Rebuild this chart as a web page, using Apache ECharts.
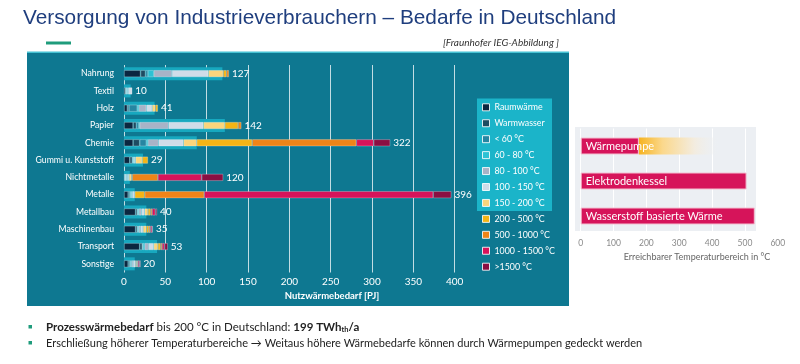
<!DOCTYPE html>
<html><head><meta charset="utf-8">
<script src="https://cdn.jsdelivr.net/npm/echarts@6/dist/echarts.min.js"></script>
<style>html,body{margin:0;padding:0;background:#fff;}#c{width:800px;height:364px;}</style>
</head><body><div id="c"></div>
<script>
const categories = ['Nahrung','Textil','Holz','Papier','Chemie','Gummi u. Kunststoff','Nichtmetalle','Metalle','Metallbau','Maschinenbau','Transport','Sonstige'];
const raumwaerme  = [20, 2,   4, 11, 11, 7,   1,   5,  14, 14, 19, 5];
const warmwasser  = [6,  0.5, 2, 4,  8,  3,   0.5, 2,  2,  2,  3,  2];
const t_lt60      = [3,  0.5, 10,3,  8,  1,   0.5, 1,  1,  1,  1,  1];
const t_60_80     = [7,  1,   2, 1,  2,  1,   1,   1,  1,  1,  2,  1];
const t_80_100    = [22, 1,   9, 35, 13, 0.5, 1,   1,  3,  2,  5,  2];
const t_100_150   = [44, 5,   7, 42, 30, 1.5, 2,   3,  4,  3,  6,  3];
const t_150_200   = [18, 0,   4, 26, 16, 8,   3,   0,  4,  4,  5,  1];
const t_200_500   = [4,  0,   3, 16, 67, 7,   1,   12, 3,  3,  3,  1];
const t_500_1000  = [3,  0,   0, 4,  126,0,   31,  72, 2,  2,  2,  1];
const t_1000_1500 = [0,  0,   0, 0,  21, 0,   53,  277,4,  2,  3,  2];
const t_gt1500    = [0,  0,   0, 0,  20, 0,   26,  22, 2,  1,  4,  1];
const totals      = [127,10,  41,142,322,29,  120, 396,40, 35, 53, 20];
const upTo200     = [119,8,   37,122,88, 23,  7,   13, 27, 27, 40, 13];
const segNames = ['Raumwärme','Warmwasser','< 60 °C','60 - 80 °C','80 - 100 °C','100 - 150 °C','150 - 200 °C','200 - 500 °C','500 - 1000 °C','1000 - 1500 °C','>1500 °C'];
const xTicks = [0,50,100,150,200,250,300,350,400];

const techNames = ['Wärmepumpe','Elektrodenkessel','Wasserstoff basierte Wärme'];
const techRange = [177, 505, 530];
const techExtension = [241, 0, 0];
const tempTicks = [0,100,200,300,400,500,600];

const segData = [raumwaerme,warmwasser,t_lt60,t_60_80,t_80_100,t_100_150,t_150_200,t_200_500,t_500_1000,t_1000_1500,t_gt1500];
const segColors = ['#0b2740','#1d4c62','#2686a2','#2cc2d4','#a8b3c7','#cfdce8','#fbd57c','#f5b415','#ef8418','#d7135a','#8a0f42'];
const F = 'Lato, "Open Sans", sans-serif';

const chart = echarts.init(document.getElementById('c'));
const series = [];
series.push({type:'bar', name:'bis200', xAxisIndex:0, yAxisIndex:1, data:upTo200, barWidth:13,
  itemStyle:{color:'#17a8bf'}, silent:true, z:1});
segNames.forEach((n,i)=>series.push({type:'bar', name:n, stack:'main', xAxisIndex:0, yAxisIndex:0, barWidth:7,
  data:segData[i].map(v=>v===0?null:v),
  itemStyle:{color:segColors[i], borderColor:'rgba(255,255,255,0.45)', borderWidth:0.6}, z:2}));
series.push({type:'bar', name:'total', stack:'main', xAxisIndex:0, yAxisIndex:0, barWidth:7,
  data:totals.map(()=>0), itemStyle:{color:'rgba(0,0,0,0)', borderWidth:0}, z:3,
  label:{show:true, position:'right', distance:3, color:'#fff', fontSize:10, fontFamily:F,
    formatter:p=>totals[p.dataIndex]}});
series.push({type:'bar', name:'techMain', stack:'tech', xAxisIndex:1, yAxisIndex:2, barWidth:17, data:techRange,
  itemStyle:{color:'#d6145a', borderColor:'#f3bfd0', borderWidth:1}, z:4,
  label:{show:true, position:'insideLeft', distance:5, color:'#fff', fontSize:11, fontFamily:F,
    formatter:p=>techNames[p.dataIndex]}});
series.push({type:'bar', name:'techExt', stack:'tech', xAxisIndex:1, yAxisIndex:2, barWidth:17,
  data:techExtension.map(v=>v===0?null:v), z:3,
  itemStyle:{color:new echarts.graphic.LinearGradient(0,0,1,0,[
    {offset:0,color:'#f6b320'},{offset:0.3,color:'#fbd88c'},{offset:0.7,color:'#f3ecdf'},{offset:1,color:'rgba(236,240,244,0.2)'}])}});

chart.setOption({
  animation:false,
  grid:[{left:124, top:65, width:330.7, height:207.5},
        {left:580.7, top:128.5, width:197.1, height:105}],
  xAxis:[{gridIndex:0, type:'value', min:xTicks[0], max:xTicks[xTicks.length-1], interval:50,
          axisLine:{show:false}, axisTick:{show:false},
          axisLabel:{color:'#fff', fontSize:10, fontFamily:F, margin:4},
          splitLine:{show:true, lineStyle:{color:'rgba(255,255,255,0.75)', width:1}}},
         {gridIndex:1, type:'value', min:tempTicks[0], max:tempTicks[tempTicks.length-1], interval:100,
          axisLine:{show:false}, axisTick:{show:false},
          axisLabel:{color:'#8a8a8a', fontSize:8.5, fontFamily:F, margin:5},
          splitLine:{show:true, lineStyle:{color:'#ffffff', width:1}}}],
  yAxis:[{gridIndex:0, type:'category', data:categories, inverse:true,
          axisLine:{show:false}, axisTick:{show:false},
          axisLabel:{color:'#fff', fontSize:8.7, fontFamily:F, margin:10}},
         {gridIndex:0, type:'category', data:categories, inverse:true, show:false},
         {gridIndex:1, type:'category', data:techNames, inverse:true, show:false}],
  legend:{data:segNames, orient:'vertical', left:482, top:101.3, padding:0, itemWidth:7, itemHeight:7, itemGap:3.94,
    icon:'rect', selectedMode:false,
    itemStyle:{borderColor:'rgba(255,255,255,0.85)', borderWidth:1},
    textStyle:{color:'#fff', fontSize:8.8, fontFamily:F, lineHeight:12}},
  graphic:[
    {type:'rect', z:-10, shape:{x:27,y:52,width:542,height:254}, style:{fill:'#0e7891'}},
    {type:'rect', z:-9, shape:{x:27,y:51.5,width:542,height:1.5}, style:{fill:'#45c2d3'}},
    {type:'rect', z:-9, shape:{x:477,y:98.5,width:75,height:112.5}, style:{fill:'#1bb4c9'}},
    {type:'rect', z:-10, shape:{x:575,y:127,width:181,height:104}, style:{fill:'#eceff3'}},
    {type:'text', z:5, x:23, y:18, style:{text:'Versorgung von Industrieverbrauchern – Bedarfe in Deutschland',
      fontSize:20.8, fontFamily:'"Liberation Sans", Arial, sans-serif', fill:'#1f3e7e', verticalAlign:'middle'}},
    {type:'rect', z:5, shape:{x:46,y:41.5,width:25,height:3}, style:{fill:'#1f9c7c'}},
    {type:'text', z:5, x:559, y:43, style:{text:'[Fraunhofer IEG-Abbildung ]', fontSize:10, fontStyle:'italic',
      fontFamily:F, fill:'#333', align:'right', verticalAlign:'middle'}},
    {type:'text', z:5, x:332, y:296, style:{text:'Nutzwärmebedarf [PJ]', fontSize:9.5, fontWeight:'bold',
      fontFamily:F, fill:'#fff', align:'center', verticalAlign:'middle'}},
    {type:'text', z:5, x:697, y:257, style:{text:'Erreichbarer Temperaturbereich in °C', fontSize:9,
      fontFamily:F, fill:'#666', align:'center', verticalAlign:'middle'}},
    {type:'rect', z:5, shape:{x:28.5,y:325,width:3.5,height:3.5}, style:{fill:'#1f9c7c'}},
    {type:'rect', z:5, shape:{x:28.5,y:341,width:3.5,height:3.5}, style:{fill:'#1f9c7c'}},
    {type:'text', z:5, x:46, y:327, style:{
      text:'{b|Prozesswärmebedarf}{n| bis 200 °C in Deutschland: }{b|199 TWh}{s|th}{b|/a}',
      fontSize:11, fontFamily:F, fill:'#222', verticalAlign:'middle',
      rich:{n:{fontSize:11.5, fontFamily:F, fill:'#222', lineHeight:14},
            b:{fontSize:11.5, fontFamily:F, fill:'#222', fontWeight:'bold', lineHeight:14},
            s:{fontSize:7.5, fontFamily:F, fill:'#222', fontWeight:'bold', lineHeight:14, verticalAlign:'bottom', padding:[6,0,0,0]}}}},
    {type:'text', z:5, x:46, y:343, style:{
      text:'Erschließung höherer Temperaturbereiche → Weitaus höhere Wärmebedarfe können durch Wärmepumpen gedeckt werden',
      fontSize:11, fontFamily:F, fill:'#222', verticalAlign:'middle'}}
  ],
  series:series
});
</script></body></html>
